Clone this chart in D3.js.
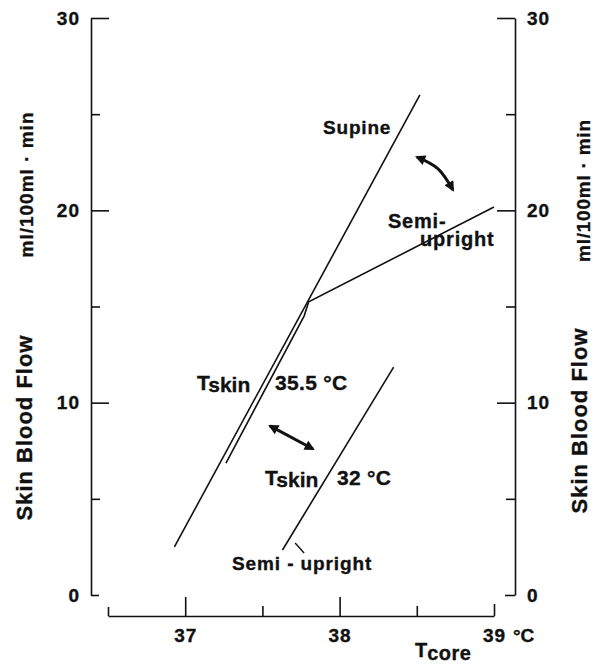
<!DOCTYPE html>
<html>
<head>
<meta charset="utf-8">
<script src="https://cdn.jsdelivr.net/npm/d3@7"></script>
<style>
  body { margin: 0; background: #fff; }
  text { stroke: #111; stroke-width: 0.35px; }
</style>
</head>
<body>
<svg id="chart" width="599" height="665"></svg>
<script>
// core temperature (°C) vs skin blood flow (ml/100ml·min)
let supine   = [[36.93, 2.5], [38.52, 26.0]],
    semiWarm = [[37.264, 6.86], [37.77, 14.5], [37.80, 15.25], [39.0, 20.17]],   // Tskin 35.5 °C
    semiCool = [[37.63, 2.34], [38.35, 11.85]];                                  // Tskin 32 °C

let yMajor = [0, 10, 20, 30],
    yMinor = [5, 15, 25],
    xMajor = [37, 38, 39],
    xMinor = [36.5, 37.5, 38.5];

// arrows and the little pointer, in data units
let arrowPosture = [[38.501, 22.77], [38.638, 22.16], [38.734, 21.06]],
    arrowSkin    = [[37.549, 8.79], [37.828, 7.59]],
    pointer      = [[37.712, 2.70], [37.77, 2.18]];

let ink = "#111",
    font = "'Liberation Sans', Arial, sans-serif";

let x = d3.scaleLinear().domain([36.5, 39]).range([108, 494]),
    y = d3.scaleLinear().domain([0, 30]).range([595, 18]);

let svg = d3.select("#chart");

svg.append("defs").append("marker")
    .attr("id", "head")
    .attr("viewBox", "0 0 10 10")
    .attr("refX", 8).attr("refY", 5)
    .attr("markerWidth", 4.2).attr("markerHeight", 3.4)
    .attr("orient", "auto-start-reverse")
  .append("path")
    .attr("d", "M0,0L10,5L0,10z")
    .attr("fill", ink)
    .attr("stroke", "none");

function styleAxis(g) {
  g.attr("font-size", 19).attr("font-family", font).attr("font-weight", "bold");
  g.selectAll("path, line").attr("stroke", ink).attr("stroke-width", 1.6);
  g.selectAll("text").attr("fill", ink).attr("letter-spacing", 1);
}

// left axis, ticks point inward
let left = svg.append("g").attr("transform", "translate(91,0)")
  .call(d3.axisLeft(y).tickValues(yMajor).tickSizeInner(-18).tickSizeOuter(0)
          .tickPadding(11).tickFormat(d3.format("d")))
  .call(styleAxis);
left.selectAll(".tick line").filter(d => d === 0).attr("x2", 8);
svg.append("g").attr("transform", "translate(91,0)")
  .call(d3.axisLeft(y).tickValues(yMinor).tickSize(-9).tickFormat(""))
  .call(g => g.select(".domain").remove())
  .call(styleAxis);

// right axis
let right = svg.append("g").attr("transform", "translate(515,0)")
  .call(d3.axisRight(y).tickValues(yMajor).tickSizeInner(-18).tickSizeOuter(0)
          .tickPadding(12).tickFormat(d3.format("d")))
  .call(styleAxis);
right.selectAll(".tick line").filter(d => d === 0).attr("x2", -10);
svg.append("g").attr("transform", "translate(515,0)")
  .call(d3.axisRight(y).tickValues(yMinor).tickSize(-9).tickFormat(""))
  .call(g => g.select(".domain").remove())
  .call(styleAxis);

// bottom axis, detached below the frame
let bottom = svg.append("g").attr("transform", "translate(0,616)")
  .call(d3.axisBottom(x).tickValues(xMajor).tickSizeInner(-19).tickSizeOuter(0)
          .tickPadding(13).tickFormat(d3.format("d")))
  .call(styleAxis);
bottom.selectAll(".tick line").filter(d => d === 39).attr("y2", -12);
svg.append("g").attr("transform", "translate(0,616)")
  .call(d3.axisBottom(x).tickValues(xMinor).tickSize(-10).tickFormat(""))
  .call(g => g.select(".domain").remove())
  .call(styleAxis)
  .selectAll(".tick line").filter(d => d === 36.5).attr("y2", -9);

bottom.append("text")
    .attr("x", x(39) + 19).attr("y", 13).attr("dy", "0.71em")
    .attr("text-anchor", "start").attr("fill", ink)
    .text("°C");

let tcore = svg.append("text")
    .attr("x", 415).attr("y", 657)
    .attr("font-family", font).attr("font-weight", "bold").attr("font-size", 20)
    .attr("fill", ink);
tcore.append("tspan").text("T");
tcore.append("tspan").attr("dy", 3).attr("letter-spacing", 0.5).text("core");

// axis titles, rotated
function title(tx, ty, txt, size, len) {
  svg.append("text")
      .attr("transform", "translate(" + tx + "," + ty + ") rotate(-90)")
      .attr("text-anchor", "middle")
      .attr("font-family", font).attr("font-weight", "bold").attr("font-size", size)
      .attr("textLength", len).attr("lengthAdjust", "spacing")
      .attr("fill", ink)
      .text(txt);
}
title(33, 185, "ml/100ml · min", 19, 145);
title(32, 428, "Skin Blood Flow", 22, 185);
title(590, 191, "ml/100ml · min", 19, 142);
title(587, 421, "Skin Blood Flow", 22, 185);

// curves
let line = d3.line().x(d => x(d[0])).y(d => y(d[1]));

svg.selectAll(".curve")
  .data([supine, semiWarm, semiCool])
  .join("path")
    .attr("class", "curve")
    .attr("d", line)
    .attr("fill", "none")
    .attr("stroke", ink)
    .attr("stroke-width", 1.6)
    .attr("stroke-linejoin", "miter");

svg.append("path")
    .attr("d", line(pointer))
    .attr("fill", "none").attr("stroke", ink).attr("stroke-width", 1.4);

// double-headed arrows
svg.append("path")
    .attr("d", line.curve(d3.curveNatural)(arrowPosture))
    .attr("fill", "none").attr("stroke", ink).attr("stroke-width", 3)
    .attr("marker-start", "url(#head)").attr("marker-end", "url(#head)");
line.curve(d3.curveLinear);
svg.append("path")
    .attr("d", line(arrowSkin))
    .attr("fill", "none").attr("stroke", ink).attr("stroke-width", 3)
    .attr("marker-start", "url(#head)").attr("marker-end", "url(#head)");

// labels
function label(pos, txt, size, spacing) {
  return svg.append("text")
      .attr("x", x(pos[0])).attr("y", y(pos[1]))
      .attr("font-family", font).attr("font-weight", "bold").attr("font-size", size)
      .attr("letter-spacing", spacing)
      .attr("fill", ink)
      .text(txt);
}
label([37.893, 23.97], "Supine", 19, 0.8);
label([38.313, 19.08], "Semi-", 20, 0.8);
label([38.521, 18.15], "upright", 20, 0.8);
label([37.582, 10.66], "35.5 °C", 21, 0.3);
label([37.983, 5.72], "32 °C", 21, 0.3);
label([37.303, 1.30], "Semi - upright", 19, 0.9);

function tskin(pos) {
  let t = label(pos, "", 21, 0);
  t.append("tspan").text("T");
  t.append("tspan").attr("dy", 2).text("skin");
}
tskin([37.076, 10.66]);
tskin([37.517, 5.72]);
</script>
</body>
</html>
